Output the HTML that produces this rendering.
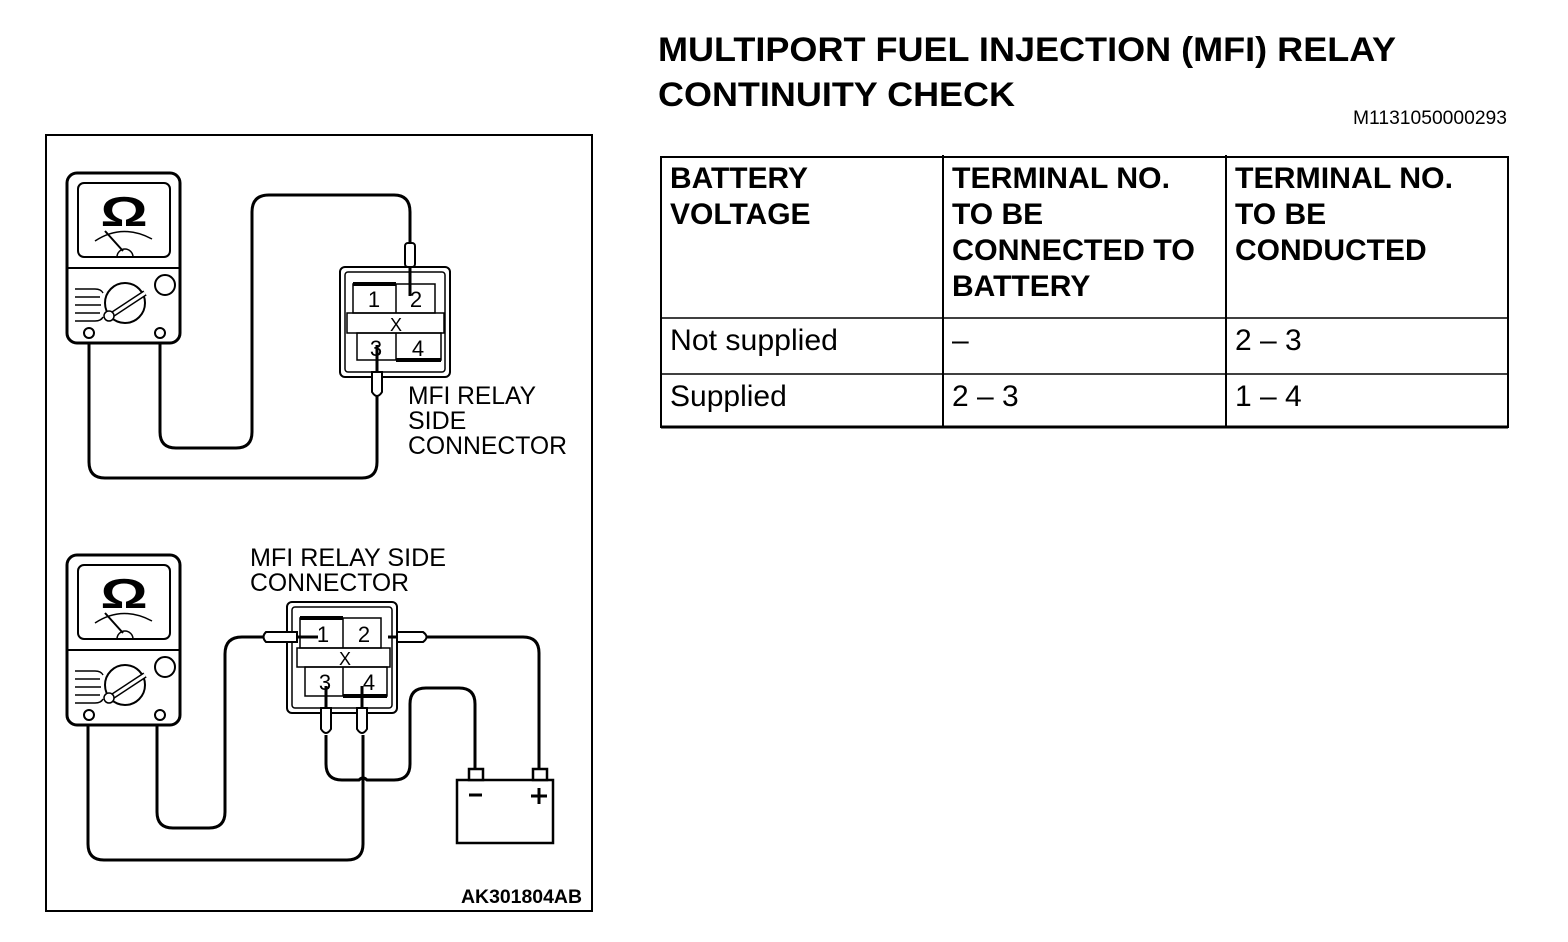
<!DOCTYPE html>
<html><head><meta charset="utf-8"><style>
html,body{margin:0;padding:0;background:#fff;}
svg{display:block;}
text{font-family:"Liberation Sans",Arial,sans-serif;fill:#000;}
</style></head><body>
<svg width="1568" height="942" viewBox="0 0 1568 942" xmlns="http://www.w3.org/2000/svg">
<!-- Title -->
<text x="658" y="61" font-size="34" font-weight="bold" textLength="738" lengthAdjust="spacingAndGlyphs">MULTIPORT FUEL INJECTION (MFI) RELAY</text>
<text x="658" y="106" font-size="34" font-weight="bold" textLength="357" lengthAdjust="spacingAndGlyphs">CONTINUITY CHECK</text>
<text x="1507" y="124" font-size="19" text-anchor="end" textLength="154" lengthAdjust="spacingAndGlyphs">M1131050000293</text>

<!-- Table -->
<g stroke="#000" fill="none">
<rect x="661" y="157" width="847" height="270" stroke-width="2"/>
<line x1="661" y1="427" x2="1508" y2="427" stroke-width="3"/>
<line x1="943" y1="155" x2="943" y2="427" stroke-width="2"/>
<line x1="1226" y1="155" x2="1226" y2="427" stroke-width="2"/>
<line x1="661" y1="318" x2="1508" y2="318" stroke-width="1.5"/>
<line x1="661" y1="374" x2="1508" y2="374" stroke-width="1.5"/>
</g>
<g font-size="30" font-weight="bold">
<text x="670" y="188" textLength="138" lengthAdjust="spacingAndGlyphs">BATTERY</text>
<text x="670" y="224">VOLTAGE</text>
<text x="952" y="188" textLength="218" lengthAdjust="spacingAndGlyphs">TERMINAL NO.</text>
<text x="952" y="224">TO BE</text>
<text x="952" y="260" textLength="243" lengthAdjust="spacingAndGlyphs">CONNECTED TO</text>
<text x="952" y="296">BATTERY</text>
<text x="1235" y="188" textLength="218" lengthAdjust="spacingAndGlyphs">TERMINAL NO.</text>
<text x="1235" y="224">TO BE</text>
<text x="1235" y="260">CONDUCTED</text>
</g>
<g font-size="30">
<text x="670" y="350" textLength="168" lengthAdjust="spacingAndGlyphs">Not supplied</text>
<text x="952" y="350">–</text>
<text x="1235" y="350">2 – 3</text>
<text x="670" y="406">Supplied</text>
<text x="952" y="406">2 – 3</text>
<text x="1235" y="406">1 – 4</text>
</g>

<!-- Frame -->
<rect x="46" y="135" width="546" height="776" fill="none" stroke="#000" stroke-width="2"/>
<text x="582" y="903" font-size="19" font-weight="bold" text-anchor="end" textLength="121" lengthAdjust="spacingAndGlyphs">AK301804AB</text>

<defs>
<g id="meter">
<rect x="0" y="0" width="113" height="170" rx="10" fill="#fff" stroke="#000" stroke-width="3"/>
<rect x="11" y="10" width="92" height="74" rx="6" fill="none" stroke="#000" stroke-width="2"/>
<line x1="0" y1="95" x2="113" y2="95" stroke="#000" stroke-width="2"/>
<text x="0" y="0" font-size="42" font-weight="bold" text-anchor="middle" font-family="DejaVu Sans,sans-serif" transform="translate(57 53) scale(1.4 1)">Ω</text>
<path d="M28 68 Q55 50 85 66" fill="none" stroke="#000" stroke-width="1.5"/>
<line x1="38" y1="58" x2="56" y2="78" stroke="#000" stroke-width="2"/>
<path d="M50 84 A8 8 0 0 1 66 84" fill="none" stroke="#000" stroke-width="1.5"/>
<circle cx="58" cy="130" r="20" fill="none" stroke="#000" stroke-width="2"/>
<line x1="40" y1="145" x2="78" y2="120" stroke="#000" stroke-width="6"/>
<line x1="40" y1="145" x2="78" y2="120" stroke="#fff" stroke-width="3"/>
<circle cx="42" cy="143" r="5" fill="#fff" stroke="#000" stroke-width="1.5"/>
<circle cx="98" cy="112" r="10" fill="none" stroke="#000" stroke-width="2"/>
<g stroke="#000" stroke-width="1.5" fill="none">
<path d="M8 116 H28 Q34 116 36 120"/><path d="M8 124 H33"/><path d="M8 132 H34"/><path d="M8 140 H33"/><path d="M8 148 H28 Q34 148 36 144"/>
</g>
<circle cx="22" cy="160" r="5" fill="#fff" stroke="#000" stroke-width="2"/>
<circle cx="93" cy="160" r="5" fill="#fff" stroke="#000" stroke-width="2"/>
</g>
</defs>

<!-- TOP diagram wires -->
<g fill="none" stroke="#000" stroke-width="3">
<path d="M89 335 V462 Q89 478 105 478 H362 Q377 478 377 462 V395"/>
<path d="M160 335 V432 Q160 448 176 448 H236 Q252 448 252 432 V212 Q252 195 269 195 H394 Q410 195 410 212 V245"/>
<line x1="410" y1="265" x2="410" y2="296"/>
<line x1="377" y1="345" x2="377" y2="375"/>
</g>
<use href="#meter" x="67" y="173"/>
<g fill="none" stroke="#000">
<rect x="340" y="267" width="110" height="110" rx="5" stroke-width="2"/>
<rect x="345" y="272" width="100" height="100" rx="3" stroke-width="1.5"/>
<rect x="353" y="284" width="82" height="29" stroke-width="1.5"/>
<line x1="396" y1="284" x2="396" y2="313" stroke-width="1.5"/>
<rect x="347" y="313" width="97" height="20" stroke-width="1.5"/>
<rect x="357" y="333" width="84" height="27" stroke-width="1.5"/>
<line x1="396" y1="333" x2="396" y2="360" stroke-width="1.5"/>
<line x1="353" y1="284" x2="396" y2="284" stroke-width="4"/>
<line x1="396" y1="360" x2="441" y2="360" stroke-width="4"/>
</g>
<g font-size="22">
<text x="374" y="307" text-anchor="middle">1</text>
<text x="416" y="307" text-anchor="middle">2</text>
<text x="396" y="331" text-anchor="middle" font-size="18">X</text>
<text x="376" y="356" text-anchor="middle">3</text>
<text x="418" y="356" text-anchor="middle">4</text>
</g>
<rect x="405" y="243" width="10" height="24" rx="3" fill="#fff" stroke="#000" stroke-width="2"/>
<path d="M372 372 V392 Q377 400 382 392 V372 Z" fill="#fff" stroke="#000" stroke-width="2"/>
<g font-size="25">
<text x="408" y="404" textLength="128" lengthAdjust="spacingAndGlyphs">MFI RELAY</text>
<text x="408" y="429">SIDE</text>
<text x="408" y="454" textLength="159" lengthAdjust="spacingAndGlyphs">CONNECTOR</text>
</g>

<!-- BOTTOM diagram wires -->
<g fill="none" stroke="#000" stroke-width="3">
<path d="M157 717 V812 Q157 828 173 828 H209 Q225 828 225 812 V654 Q225 637 242 637 H266"/>
<path d="M88 717 V844 Q88 860 104 860 H347 Q363 860 363 844 V735"/>
<path d="M326 735 V764 Q326 780 342 780 H359 Q363 776 367 780 H394 Q410 780 410 764 V704 Q410 688 426 688 H459 Q475 688 475 704 V770"/>
<path d="M427 637 H523 Q539 637 539 653 V770"/>
<line x1="297" y1="637" x2="318" y2="637"/>
<line x1="388" y1="637" x2="397" y2="637"/>
<line x1="326" y1="686" x2="326" y2="712"/>
<line x1="362" y1="686" x2="362" y2="712"/>
</g>
<use href="#meter" x="67" y="555"/>
<g fill="none" stroke="#000">
<rect x="287" y="602" width="110" height="111" rx="5" stroke-width="2"/>
<rect x="292" y="607" width="100" height="101" rx="3" stroke-width="1.5"/>
<rect x="300" y="618" width="81" height="30" stroke-width="1.5"/>
<line x1="343" y1="618" x2="343" y2="648" stroke-width="1.5"/>
<rect x="297" y="648" width="93" height="19" stroke-width="1.5"/>
<rect x="305" y="667" width="82" height="29" stroke-width="1.5"/>
<line x1="343" y1="667" x2="343" y2="696" stroke-width="1.5"/>
<line x1="300" y1="618" x2="343" y2="618" stroke-width="4"/>
<line x1="343" y1="696" x2="387" y2="696" stroke-width="4"/>
</g>
<g font-size="22">
<text x="323" y="642" text-anchor="middle">1</text>
<text x="364" y="642" text-anchor="middle">2</text>
<text x="345" y="665" text-anchor="middle" font-size="18">X</text>
<text x="325" y="690" text-anchor="middle">3</text>
<text x="369" y="690" text-anchor="middle">4</text>
</g>
<path d="M266 632 H297 V642 H266 Q261 637 266 632 Z" fill="#fff" stroke="#000" stroke-width="2"/>
<path d="M397 632 H423 Q430 637 423 642 H397 Z" fill="#fff" stroke="#000" stroke-width="2"/>
<path d="M321 708 V729 Q326 737 331 729 V708 Z" fill="#fff" stroke="#000" stroke-width="2"/>
<path d="M357 708 V729 Q362 737 367 729 V708 Z" fill="#fff" stroke="#000" stroke-width="2"/>
<g font-size="25">
<text x="250" y="566" textLength="196" lengthAdjust="spacingAndGlyphs">MFI RELAY SIDE</text>
<text x="250" y="591" textLength="159" lengthAdjust="spacingAndGlyphs">CONNECTOR</text>
</g>
<rect x="457" y="780" width="96" height="63" fill="#fff" stroke="#000" stroke-width="2.5"/>
<rect x="469" y="769" width="14" height="11" fill="#fff" stroke="#000" stroke-width="2.5"/>
<rect x="533" y="769" width="14" height="11" fill="#fff" stroke="#000" stroke-width="2.5"/>
<line x1="469" y1="795" x2="482" y2="795" stroke="#000" stroke-width="3"/>
<line x1="531" y1="796" x2="547" y2="796" stroke="#000" stroke-width="3"/>
<line x1="539" y1="788" x2="539" y2="804" stroke="#000" stroke-width="3"/>
</svg>
</body></html>
